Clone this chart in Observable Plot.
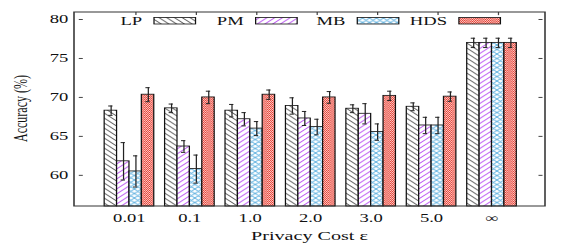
<!DOCTYPE html>
<html><head><meta charset="utf-8">
<script src="https://cdn.jsdelivr.net/npm/d3@7"></script>
<script src="https://cdn.jsdelivr.net/npm/@observablehq/plot@0.6"></script>
<style>
html,body{margin:0;padding:0;background:#fff;overflow:hidden;}
#wrap{width:375px;height:245px;transform:scaleX(1.54933);transform-origin:0 0;}
</style></head><body><div id="wrap"></div>
<script>
// ---- data ----
const groups = ["0.01", "0.1", "1.0", "2.0", "3.0", "5.0", "∞"];
const series = ["LP", "PM", "MB", "HDS"];
const LP     = [68.3, 68.6, 68.3, 68.9, 68.55, 68.8, 77.0];
const LPerr  = [0.6, 0.55, 0.8, 1.05, 0.5, 0.5, 0.6];
const PM     = [61.8, 63.7, 67.2, 67.3, 67.9, 66.4, 77.0];
const PMerr  = [2.4, 0.75, 0.85, 0.9, 1.3, 1.05, 0.6];
const MB     = [60.5, 60.8, 66.0, 66.2, 65.55, 66.4, 77.0];
const MBerr  = [2.0, 1.8, 0.9, 1.0, 1.05, 1.05, 0.6];
const HDS    = [70.35, 70.0, 70.35, 70.0, 70.2, 70.1, 77.0];
const HDSerr = [0.9, 0.8, 0.6, 0.75, 0.6, 0.6, 0.6];
const yTicks = [60, 65, 70, 75, 80];
const xTitle = "Privacy Cost ε";
const yTitle = "Accuracy (%)";

// ---- table built from the arrays ----
const vals = {LP, PM, MB, HDS};
const errs = {LP: LPerr, PM: PMerr, MB: MBerr, HDS: HDSerr};
const rows = [];
series.forEach(s => groups.forEach((g, i) => rows.push({group: g, series: s, value: vals[s][i], err: errs[s][i]})));

// ---- layout (drawn at 375px wide, then stretched horizontally like the original) ----
const S = 581 / 375;
const W = 375, H = 245;
const mL = 74 / S, mR = (581 - 545) / S, mT = 12, mB = 39;
const yMin = 56, yMax = 80.9;
const padIn = 0.19, padOut = 0.405;
const step = (W - mL - mR) / (groups.length - padIn + 2 * padOut);
const outerOff = padOut * step;
const font = "'Liberation Serif','Times New Roman',serif";

const patId = s => "pat-" + s.toLowerCase();

const marks = [];
series.forEach(s => {
  marks.push(Plot.barY(rows.filter(d => d.series === s), {
    fx: "group", x: "series", y1: () => yMin, y2: "value",
    fill: `url(#${patId(s)})`, stroke: "#111", strokeWidth: 0.8
  }));
});
marks.push(Plot.ruleX(rows, {fx: "group", x: "series", y1: d => d.value - d.err, y2: d => d.value + d.err, stroke: "#222", strokeWidth: 0.8}));
marks.push(Plot.tickY(rows, {fx: "group", x: "series", y: d => d.value + d.err, insetLeft: 2.6, insetRight: 2.6, stroke: "#222", strokeWidth: 1}));
marks.push(Plot.tickY(rows, {fx: "group", x: "series", y: d => d.value - d.err, insetLeft: 2.6, insetRight: 2.6, stroke: "#222", strokeWidth: 1}));
// mirrored x ticks on the top edge
marks.push(Plot.ruleX(groups, {fx: d => d, x: () => "MB", y1: () => yMax, y2: () => yMax - 0.4, stroke: "#444", strokeWidth: 0.8}));
// y axis labels + inward ticks on both sides
marks.push(Plot.axisY({anchor: "left", ticks: yTicks, tickSize: 0, tickPadding: 7.2, dx: -outerOff, label: null, fontSize: 12}));
marks.push(Plot.axisY({anchor: "left", ticks: yTicks, tickSize: 2.6, insetLeft: 2.6, dx: -outerOff, tickFormat: () => "", label: null, stroke: "#444"}));
marks.push(Plot.axisY({anchor: "right", ticks: yTicks, tickSize: 2.6, insetRight: 2.6, dx: outerOff, tickFormat: () => "", label: null, stroke: "#444"}));
marks.push(Plot.axisFx({anchor: "bottom", tickSize: 0, tickPadding: 6.5, label: null, fontSize: 12}));

const chart = Plot.plot({
  width: W, height: H,
  marginLeft: mL, marginRight: mR, marginTop: mT, marginBottom: mB,
  style: {fontFamily: font, fontSize: "12px", background: "white", color: "#111"},
  fx: {domain: groups, paddingInner: padIn, paddingOuter: padOut, label: null},
  x: {domain: series, padding: 0, axis: null},
  y: {domain: [yMin, yMax]},
  marks
});
document.getElementById("wrap").appendChild(chart);

// ---- patterns, frame, legend, titles ----
const svg = d3.select(chart);
const defs = svg.insert("defs", ":first-child");
function hatch(id, color, p, dirs, sw) {
  const pat = defs.append("pattern").attr("id", id).attr("patternUnits", "userSpaceOnUse")
    .attr("width", p).attr("height", p);
  pat.append("rect").attr("width", p).attr("height", p).attr("fill", "white");
  let d = "";
  if (dirs.includes("\\")) d += `M0,0L${p},${p}M${p - 1},-1L${p + 1},1M-1,${p - 1}L1,${p + 1}`;
  if (dirs.includes("/")) d += `M0,${p}L${p},0M-1,1L1,-1M${p - 1},${p + 1}L${p + 1},${p - 1}`;
  pat.append("path").attr("d", d).attr("stroke", color).attr("stroke-width", sw).attr("fill", "none");
}
hatch(patId("LP"), "#555", 5, "\\", 0.8);
hatch(patId("PM"), "#b84cf2", 5, "/", 0.8);
hatch(patId("MB"), "#48a6dc", 4.5, "\\/", 0.7);
{
  const w = 1.4, h = 2;
  const pat = defs.append("pattern").attr("id", patId("HDS")).attr("patternUnits", "userSpaceOnUse")
    .attr("width", w).attr("height", h);
  pat.append("rect").attr("width", w).attr("height", h).attr("fill", "#fbd2cd");
  pat.append("rect").attr("width", w / 2).attr("height", h / 2).attr("fill", "#e63a2f");
  pat.append("rect").attr("x", w / 2).attr("y", h / 2).attr("width", w / 2).attr("height", h / 2).attr("fill", "#e63a2f");
}

svg.append("rect").attr("x", mL).attr("y", mT).attr("width", W - mL - mR).attr("height", H - mT - mB)
  .attr("fill", "none").attr("stroke", "#333").attr("stroke-width", 1);

const leg = svg.append("g").attr("font-family", font).attr("font-size", 12).attr("fill", "#111");
const legX0 = 91.7, legStep = 65.6, legGap = 7.7, legW = 26.8;
series.forEach((s, i) => {
  const x = legX0 + i * legStep;
  leg.append("text").attr("x", x).attr("y", 25).attr("text-anchor", "end").text(s);
  leg.append("rect").attr("x", x + legGap).attr("y", 17.5).attr("width", legW).attr("height", 6.5)
    .attr("fill", `url(#${patId(s)})`).attr("stroke", "#111").attr("stroke-width", 0.8);
});

svg.append("text").attr("transform", `translate(${20.5 / S},108.5) rotate(-90)`)
  .attr("text-anchor", "middle").attr("dominant-baseline", "central")
  .attr("font-family", font).attr("font-size", 12).attr("fill", "#111").text(yTitle);
svg.append("text").attr("x", mL + (W - mL - mR) / 2).attr("y", 240)
  .attr("text-anchor", "middle").attr("font-family", font).attr("font-size", 13).attr("fill", "#111").text(xTitle);
</script></body></html>
